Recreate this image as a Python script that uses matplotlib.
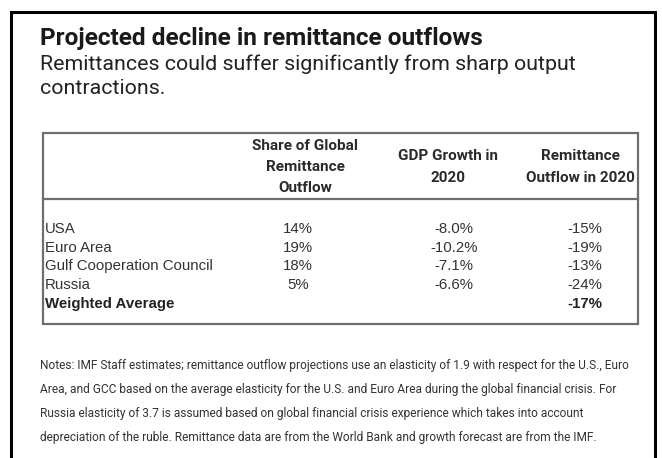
import matplotlib
matplotlib.use("Agg")
import matplotlib.pyplot as plt
from matplotlib.patches import Rectangle

title = "Projected decline in remittance outflows"
subtitle = ["Remittances could suffer significantly from sharp output", "contractions."]
col_headers = [["Share of Global", "Remittance", "Outflow"],
               ["GDP Growth in", "2020"],
               ["Remittance", "Outflow in 2020"]]
regions = ["USA", "Euro Area", "Gulf Cooperation Council", "Russia"]
share = [14, 19, 18, 5]
gdp_growth = [-8.0, -10.2, -7.1, -6.6]
remit_outflow = [-15, -19, -13, -24]
avg_label = "Weighted Average"
weighted_avg = -17
notes = ["Notes: IMF Staff estimates; remittance outflow projections use an elasticity of 1.9 with respect for the U.S., Euro",
         "Area, and GCC based on the average elasticity for the U.S. and Euro Area during the global financial crisis. For",
         "Russia elasticity of 3.7 is assumed based on global financial crisis experience which takes into account",
         "depreciation of the ruble. Remittance data are from the World Bank and growth forecast are from the IMF."]

W, H = 662, 458
fig = plt.figure(figsize=(W / 100, H / 100), dpi=100)
ax = fig.add_axes([0, 0, 1, 1])
ax.set_xlim(0, W)
ax.set_ylim(H, 0)
ax.axis("off")

# outer frame (open at the bottom)
ax.plot([11, 11, 655, 655], [H + 5, 12, 12, H + 5], color="black", lw=2.2,
        solid_joinstyle="miter", clip_on=False)

fam = ["Roboto", "DejaVu Sans"]
# title & subtitle
ax.text(40, 38, title, fontsize=17.6, fontweight="bold", family=fam,
        color="#1a1a1a", va="center", ha="left")
for i, line in enumerate(subtitle):
    ax.text(40, 64 + i * 25, line, fontsize=15.4, family=fam,
            color="#222222", va="center", ha="left")

# table box
ax.add_patch(Rectangle((43, 133), 638 - 43, 324 - 133, fill=False, ec="#6e6e6e", lw=1.6))
ax.plot([43, 638], [199, 199], color="#6e6e6e", lw=1.6)

col_x = [305, 448, 580]
for cx, hdr in zip(col_x, col_headers):
    n = len(hdr)
    y0 = 167 - (n - 1) * 21 / 2
    for j, line in enumerate(hdr):
        ax.text(cx, y0 + j * 21, line, fontsize=11.0, fontweight="bold", family=fam,
                color="#2a2a2a", ha="center", va="center")

row_y0, row_dy = 229, 18.7
val_x = [298, 454, 585]
rfam = ["Liberation Sans", "DejaVu Sans"]
rfs = 10.8
for i, name in enumerate(regions):
    y = row_y0 + i * row_dy
    ax.text(45, y, name, fontsize=rfs, family=rfam, color="#333333", ha="left", va="center")
    ax.text(val_x[0], y, f"{share[i]}%", fontsize=rfs, family=rfam, color="#333333",
            ha="center", va="center")
    ax.text(val_x[1], y, f"{gdp_growth[i]:.1f}%", fontsize=rfs, family=rfam, color="#333333",
            ha="center", va="center")
    ax.text(val_x[2], y, f"{remit_outflow[i]}%", fontsize=rfs, family=rfam, color="#333333",
            ha="center", va="center")
y = row_y0 + len(regions) * row_dy
ax.text(45, y, avg_label, fontsize=rfs, fontweight="bold", family=rfam, color="#222222",
        ha="left", va="center")
ax.text(val_x[2], y, f"{weighted_avg}%", fontsize=rfs, fontweight="bold", family=rfam,
        color="#222222", ha="center", va="center")

# notes
for i, line in enumerate(notes):
    ax.text(40, 366 + i * 24, line, fontsize=8.6, family=fam, color="#333333",
            ha="left", va="center")

fig.savefig("out.png", dpi=100, facecolor="white")
